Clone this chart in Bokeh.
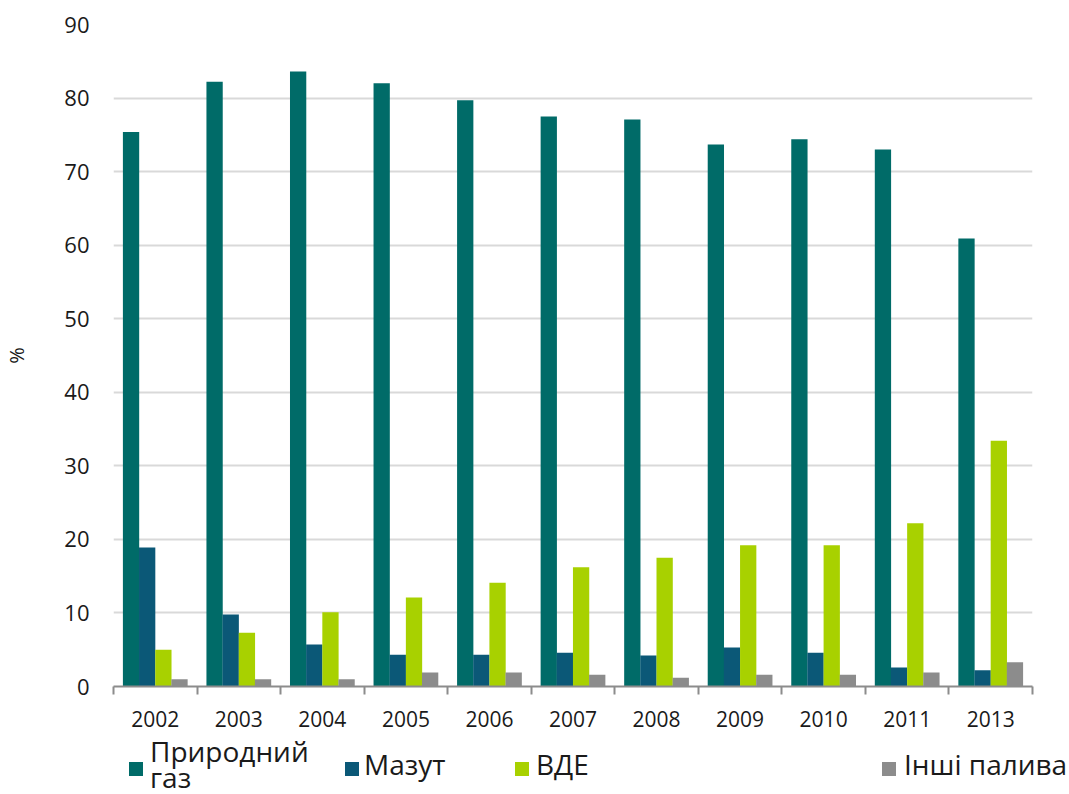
from bokeh.plotting import figure
from bokeh.models import ColumnDataSource, Range1d, LinearAxis, FixedTicker, Div
from bokeh.layouts import column
from bokeh.transform import dodge
from bokeh.embed import file_html
from bokeh.resources import INLINE

years = ["2002", "2003", "2004", "2005", "2006", "2007", "2008", "2009", "2010", "2011", "2013"]
gas = [75.4, 82.2, 83.6, 82.0, 79.7, 77.5, 77.1, 73.7, 74.4, 73.0, 60.9]
mazut = [18.9, 9.8, 5.7, 4.3, 4.3, 4.6, 4.2, 5.3, 4.6, 2.6, 2.2]
vde = [5.0, 7.3, 10.1, 12.1, 14.1, 16.2, 17.5, 19.2, 19.2, 22.2, 33.4]
other = [1.0, 1.0, 1.0, 1.9, 1.9, 1.6, 1.2, 1.6, 1.6, 1.9, 3.3]
series_labels = ["Природний газ", "Мазут", "ВДЕ", "Інші палива"]
y_ticks = list(range(0, 91, 10))

colors = ["#006b68", "#0b5877", "#a8d100", "#8c8c8c"]
FONT = "Open Sans"
TXT = "#1a1a1a"

n = len(years)
pos = [i + 0.5 for i in range(n)]  # category centres on a numeric scale
src = ColumnDataSource(dict(pos=pos, year=years, gas=gas, mazut=mazut, vde=vde, other=other))

p = figure(width=1069, height=736, x_range=Range1d(0, n), y_range=Range1d(0, 90),
           output_backend="svg", toolbar_location=None, x_axis_location=None,
           min_border_left=113, min_border_right=37, min_border_top=24, min_border_bottom=50)
p.outline_line_color = None
for g in p.grid:
    if g.dimension == 0:
        g.visible = False
p.ygrid.grid_line_color = "#d9d9d9"
p.ygrid.grid_line_width = 2
p.ygrid.ticker = FixedTicker(ticks=y_ticks)

ya = p.yaxis[0]
ya.ticker = FixedTicker(ticks=y_ticks)
ya.axis_line_color = None
ya.major_tick_line_color = None
ya.major_tick_out = 0
ya.major_tick_in = 0
ya.minor_tick_line_color = None
ya.minor_tick_out = 0
ya.major_label_standoff = 24
ya.major_label_text_font = FONT
ya.major_label_text_font_size = "22px"
ya.major_label_text_color = TXT
ya.axis_label = "%"
ya.axis_label_text_font = FONT
ya.axis_label_text_font_style = "normal"
ya.axis_label_text_font_size = "20px"
ya.axis_label_text_color = TXT
ya.axis_label_standoff = 31

keys = ["gas", "mazut", "vde", "other"]
offsets = [-0.29, -0.097, 0.097, 0.29]
for k, off, c in zip(keys, offsets, colors):
    p.vbar(x=dodge("pos", off), top=k, width=0.195, bottom=0,
           source=src, fill_color=c, line_color=None)

xa = LinearAxis(ticker=FixedTicker(ticks=pos, minor_ticks=list(range(n + 1))))
xa.major_label_overrides = {pp: y for pp, y in zip(pos, years)}
xa.axis_line_color = "#8c8c8c"
xa.axis_line_width = 2
xa.major_tick_line_color = None
xa.major_tick_out = 8
xa.major_tick_in = 0
xa.minor_tick_line_color = "#8c8c8c"
xa.minor_tick_line_width = 2
xa.minor_tick_out = 8
xa.minor_tick_in = 0
xa.major_label_standoff = 16
xa.major_label_text_font = FONT
xa.major_label_text_font_size = "21px"
xa.major_label_text_color = TXT
p.add_layout(xa, "below")

# legend below the plot, as HTML text (first label wraps onto two lines as in the original)
LH = 26
sq_left = [129, 345, 515, 882]
sq_top = [26, 26, 26, 26]
txt_left = [150, 364, 536, 904]
txt_top = [2, 15, 15, 15]
items = []
for c, lab, sl, st, tl, tt in zip(colors, series_labels, sq_left, sq_top, txt_left, txt_top):
    items.append(f'<div style="position:absolute;left:{sl}px;top:{st}px;width:14px;height:14px;background:{c};"></div>')
    for j, part in enumerate(lab.split(" ") if lab == series_labels[0] else [lab]):
        items.append(f'<div style="position:absolute;left:{tl}px;top:{tt + LH * j}px;font-family:\'{FONT}\';'
                     f'font-size:28px;line-height:{LH}px;height:{LH}px;color:{TXT};white-space:nowrap;">{part}</div>')
html = '<div style="position:relative;width:1069px;height:58px;overflow:visible;">' + "".join(items) + "</div>"
leg = Div(text=html, width=1069, height=58, margin=(0, 0, 0, 0))

layout = column(p, leg, spacing=0)
open("out.html", "w").write(file_html(layout, INLINE))
